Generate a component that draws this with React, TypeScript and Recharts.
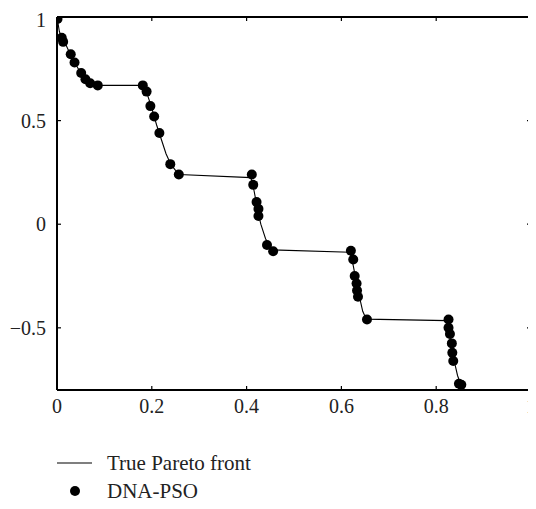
import React from 'react';
import { ComposedChart, Scatter, XAxis, YAxis, Legend } from 'recharts';

const frontX = [0, 0.005, 0.01, 0.02, 0.03, 0.04, 0.05, 0.06, 0.07, 0.083, 0.182, 0.19, 0.2, 0.21, 0.22, 0.23, 0.24, 0.25, 0.258, 0.409, 0.415, 0.42, 0.425, 0.43, 0.44, 0.454, 0.618, 0.625, 0.63, 0.635, 0.64, 0.645, 0.6525, 0.823, 0.83, 0.835, 0.84, 0.845, 0.852];
const frontY = [1, 0.93, 0.9, 0.86, 0.81, 0.77, 0.73, 0.7, 0.68, 0.67, 0.67, 0.63, 0.56, 0.48, 0.41, 0.34, 0.29, 0.26, 0.24, 0.225, 0.17, 0.11, 0.05, 0.0, -0.07, -0.124, -0.135, -0.2, -0.26, -0.32, -0.37, -0.42, -0.458, -0.465, -0.54, -0.62, -0.68, -0.73, -0.775];

const dnaX = [0.001, 0.010, 0.013, 0.029, 0.037, 0.051, 0.060, 0.070, 0.086, 0.181, 0.189, 0.197, 0.205, 0.216, 0.239, 0.257, 0.411, 0.414, 0.421, 0.425, 0.425, 0.443, 0.456, 0.620, 0.625, 0.628, 0.632, 0.633, 0.635, 0.654, 0.826, 0.826, 0.829, 0.833, 0.834, 0.836, 0.848, 0.853];
const dnaY = [0.99, 0.90, 0.88, 0.82, 0.78, 0.73, 0.70, 0.68, 0.67, 0.67, 0.64, 0.57, 0.52, 0.44, 0.29, 0.24, 0.24, 0.19, 0.107, 0.074, 0.04, -0.10, -0.13, -0.128, -0.17, -0.25, -0.286, -0.32, -0.35, -0.46, -0.46, -0.50, -0.53, -0.575, -0.62, -0.66, -0.77, -0.775];

const xTicks = [0, 0.2, 0.4, 0.6, 0.8, 1];
const yTicks = [-0.5, 0, 0.5, 1];
const seriesNames = ['True Pareto front', 'DNA-PSO'];

const frontData = frontX.map((x, i) => ({ x, y: frontY[i] }));
const dnaData = dnaX.map((x, i) => ({ x, y: dnaY[i] }));

const FONT = '"Liberation Serif", "Times New Roman", serif';

const fmt = (v: number) => (v < 0 ? '\u2212' + String(Math.abs(v)) : String(v));

const Dot = (props: any) => <circle cx={props.cx} cy={props.cy} r={5} fill="#000" />;
const NoShape = () => null;

const LegendContent = () => (
  <div style={{ fontFamily: FONT, fontSize: 21, color: '#222' }}>
    <div style={{ display: 'flex', alignItems: 'center', height: 28 }}>
      <svg width={50} height={20}>
        <line x1={0} y1={10} x2={35} y2={10} stroke="#000" strokeWidth={1.2} />
      </svg>
      <span>{seriesNames[0]}</span>
    </div>
    <div style={{ display: 'flex', alignItems: 'center', height: 28 }}>
      <svg width={50} height={20}>
        <circle cx={18} cy={10} r={5} fill="#000" />
      </svg>
      <span>{seriesNames[1]}</span>
    </div>
  </div>
);

export default function App() {
  return (
    <div style={{ fontFamily: FONT }}>
      <ComposedChart
        width={528}
        height={501}
        margin={{ top: 8, right: 4, left: 0, bottom: 89 }}
        style={{ fontFamily: FONT }}
      >
        <XAxis
          xAxisId="b"
          type="number"
          dataKey="x"
          domain={[0, 1]}
          ticks={xTicks}
          tickFormatter={fmt}
          height={30}
          tickSize={-4}
          tickMargin={13}
          axisLine={{ stroke: '#000', strokeWidth: 2 }}
          tickLine={{ stroke: '#000', strokeWidth: 1.2 }}
          tick={{ fill: '#222', fontSize: 20, fontFamily: FONT }}
          allowDataOverflow
        />
        <XAxis
          xAxisId="t"
          orientation="top"
          type="number"
          dataKey="x"
          domain={[0, 1]}
          ticks={xTicks}
          height={1}
          tickSize={-4}
          tickFormatter={() => ''}
          axisLine={{ stroke: '#000', strokeWidth: 2 }}
          tickLine={{ stroke: '#000', strokeWidth: 1.2 }}
          allowDataOverflow
        />
        <YAxis
          yAxisId="l"
          type="number"
          dataKey="y"
          domain={[-0.8, 1]}
          ticks={yTicks}
          tickFormatter={fmt}
          width={49}
          tickSize={-4}
          tickMargin={15}
          axisLine={{ stroke: '#000', strokeWidth: 2 }}
          tickLine={{ stroke: '#000', strokeWidth: 1.2 }}
          tick={{ fill: '#222', fontSize: 20, fontFamily: FONT }}
          allowDataOverflow
        />
        <YAxis
          yAxisId="r"
          orientation="right"
          type="number"
          dataKey="y"
          domain={[-0.8, 1]}
          ticks={yTicks}
          width={1}
          tickSize={-4}
          tickFormatter={() => ''}
          axisLine={{ stroke: '#000', strokeWidth: 2 }}
          tickLine={{ stroke: '#000', strokeWidth: 1.2 }}
          allowDataOverflow
        />
        <Scatter
          name={seriesNames[0]}
          data={frontData}
          xAxisId="b"
          yAxisId="l"
          line={{ stroke: '#000', strokeWidth: 1.1 }}
          shape={NoShape}
          isAnimationActive={false}
        />
        <Scatter
          name={seriesNames[1]}
          data={dnaData}
          xAxisId="b"
          yAxisId="l"
          shape={Dot}
          isAnimationActive={false}
        />
        <Scatter
          data={dnaData}
          xAxisId="t"
          yAxisId="r"
          shape={NoShape}
          legendType="none"
          isAnimationActive={false}
        />
        <Legend
          layout="vertical"
          align="center"
          verticalAlign="middle"
          content={LegendContent}
          wrapperStyle={{ top: 441, left: 49, width: 280, height: 60 }}
        />
      </ComposedChart>
    </div>
  );
}
